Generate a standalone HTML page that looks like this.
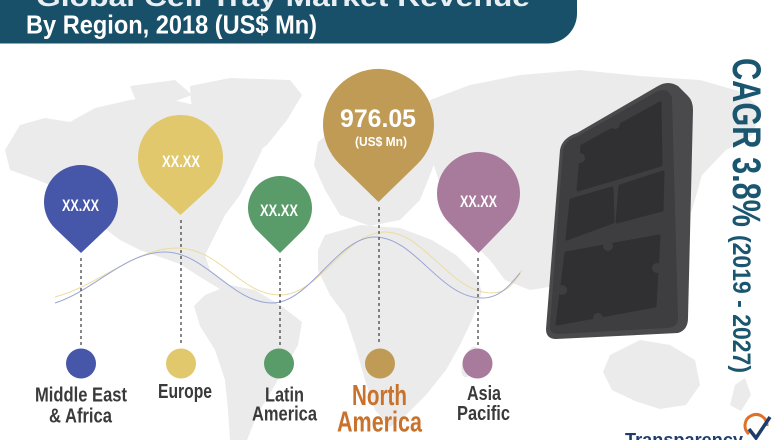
<!DOCTYPE html>
<html>
<head>
<meta charset="utf-8">
<style>
html,body{margin:0;padding:0;background:#fff;width:780px;height:440px;overflow:hidden;}
svg{display:block;}
text{font-family:"Liberation Sans Narrow","Liberation Sans",Arial,sans-serif;font-weight:bold;}
</style>
</head>
<body>
<svg width="780" height="440" viewBox="0 0 780 440" xmlns="http://www.w3.org/2000/svg">
  <rect width="780" height="440" fill="#ffffff"/>

  <!-- world map (faint) -->
  <g fill="#ebebeb">
    <!-- North America -->
    <path d="M5,150 L20,125 L45,118 L70,122 L95,108 L130,100 L160,97 L190,104 L215,96 L240,104 L255,125 L262,150 L250,175 L240,195 L225,215 L215,235 L205,255 L210,270 L230,285 L245,295 L225,292 L200,277 L180,264 L160,257 L140,250 L120,240 L100,225 L80,202 L55,187 L30,177 L10,170 Z"/>
    <!-- arctic islands -->
    <path d="M130,86 L175,80 L192,95 L162,106 L136,101 Z"/>
    <!-- Greenland -->
    <path d="M190,86 L230,78 L290,80 L302,95 L287,120 L267,145 L247,160 L226,150 L206,122 L191,102 Z"/>
    <!-- Europe -->
    <path d="M318,142 L345,120 L370,110 L400,104 L432,110 L442,140 L432,170 L420,200 L400,220 L370,226 L340,215 L325,190 L314,165 Z"/>
    <!-- Africa -->
    <path d="M325,235 L360,225 L400,228 L432,240 L456,255 L476,275 L482,292 L472,320 L460,345 L446,370 L426,395 L406,415 L390,427 L375,410 L365,380 L355,345 L345,315 L330,295 L318,270 L318,250 Z"/>
    <ellipse cx="470" cy="362" rx="7" ry="16" transform="rotate(20 470 362)"/>
    <!-- South America -->
    <path d="M205,295 L230,285 L255,290 L280,305 L302,322 L298,345 L286,366 L272,390 L257,415 L247,440 L230,440 L228,410 L225,380 L215,350 L200,326 L194,306 Z"/>
    <!-- Asia -->
    <path d="M430,100 L470,85 L520,75 L580,70 L640,76 L700,80 L742,92 L762,110 L752,135 L726,150 L702,175 L692,210 L672,240 L642,260 L602,275 L562,285 L530,290 L505,280 L490,260 L470,240 L452,220 L442,190 L432,160 L425,130 Z"/>
    <!-- Australia -->
    <path d="M610,355 L640,340 L670,345 L695,360 L700,385 L686,405 L660,409 L635,401 L612,390 L603,372 Z"/>
    <!-- NZ -->
    <path d="M735,385 L745,378 L751,395 L741,411 L730,405 Z"/>
  </g>

  <!-- header banner -->
  <path d="M0,0 H577 V13.5 A30,30 0 0 1 547,43.5 H0 Z" fill="#175068"/>
  <text x="36" y="6" font-size="26" fill="#e8eef2" textLength="494" lengthAdjust="spacingAndGlyphs">Global Cell Tray Market Revenue</text>
  <text x="26" y="33.3" font-size="26" fill="#ffffff" textLength="291" lengthAdjust="spacingAndGlyphs">By Region, 2018 (US$ Mn)</text>

  <!-- wave lines -->
  <path d="M55,297 C100,285 135,248 177,248 C220,248 240,295 280,295 C320,295 345,232 385,232 C425,232 450,293 492,293 C508,293 515,282 522,270" fill="none" stroke="#ecdca0" stroke-width="1"/>
  <path d="M55,303 C95,290 125,252 165,252 C205,252 232,303 272,303 C310,303 337,237 375,237 C415,237 440,298 482,298 C500,298 510,285 520,273" fill="none" stroke="#9aa3d6" stroke-width="1"/>

  <!-- dashed connectors -->
  <g stroke="#3a3a3a" stroke-width="1.2" stroke-dasharray="3,3" fill="none">
    <line x1="81" y1="258" x2="81" y2="345"/>
    <line x1="181" y1="220" x2="181" y2="345"/>
    <line x1="280" y1="258" x2="280" y2="345"/>
    <line x1="379" y1="207" x2="379" y2="345"/>
    <line x1="478" y1="258" x2="478" y2="345"/>
  </g>

  <!-- pins -->
  <path d="M81,253 L106.5,228.8 A37,37 0 1 0 55.5,228.8 Z" fill="#4656a8"/>
  <path d="M180.5,215 L209.1,188.9 A42.5,42.5 0 1 0 151.9,188.9 Z" fill="#e1c86c"/>
  <path d="M280,253 L302.5,230.8 A32,32 0 1 0 257.5,230.8 Z" fill="#5a9b6a"/>
  <path d="M378.5,202 L417.2,164.2 A55.5,55.5 0 1 0 339.8,164.2 Z" fill="#bf9b55"/>
  <path d="M478.5,253 L508.2,222.4 A41.5,41.5 0 1 0 448.8,222.4 Z" fill="#a87b9d"/>

  <g fill="#ffffff">
    <text x="62" y="211" font-size="17" textLength="37" lengthAdjust="spacingAndGlyphs">XX.XX</text>
    <text x="162" y="167" font-size="17" textLength="38" lengthAdjust="spacingAndGlyphs">XX.XX</text>
    <text x="260" y="216" font-size="17" textLength="38" lengthAdjust="spacingAndGlyphs">XX.XX</text>
    <text x="460" y="207" font-size="17" textLength="37" lengthAdjust="spacingAndGlyphs">XX.XX</text>
    <text x="340" y="127" font-size="25" textLength="76" lengthAdjust="spacingAndGlyphs">976.05</text>
    <text x="355" y="146" font-size="12.5" textLength="52" lengthAdjust="spacingAndGlyphs">(US$ Mn)</text>
  </g>

  <!-- small circles -->
  <circle cx="81" cy="363.5" r="15" fill="#4656a8"/>
  <circle cx="181" cy="363.5" r="15" fill="#e1c86c"/>
  <circle cx="279" cy="363.5" r="15" fill="#5a9b6a"/>
  <circle cx="380" cy="363.5" r="15" fill="#bf9b55"/>
  <circle cx="477.5" cy="363.5" r="15" fill="#a87b9d"/>

  <!-- labels -->
  <g fill="#3a3a3a" font-size="20">
    <text x="35" y="401.7" textLength="92" lengthAdjust="spacingAndGlyphs">Middle East</text>
    <text x="49" y="422.7" textLength="63" lengthAdjust="spacingAndGlyphs">&amp; Africa</text>
    <text x="158" y="398" textLength="54" lengthAdjust="spacingAndGlyphs">Europe</text>
    <text x="265" y="401.7" textLength="39" lengthAdjust="spacingAndGlyphs">Latin</text>
    <text x="252" y="420.7" textLength="65" lengthAdjust="spacingAndGlyphs">America</text>
    <text x="467" y="400" textLength="34" lengthAdjust="spacingAndGlyphs">Asia</text>
    <text x="457" y="420" textLength="53" lengthAdjust="spacingAndGlyphs">Pacific</text>
  </g>
  <g fill="#c8722c" font-size="29">
    <text x="352" y="405" textLength="55" lengthAdjust="spacingAndGlyphs">North</text>
    <text x="337" y="431.7" textLength="85" lengthAdjust="spacingAndGlyphs">America</text>
  </g>

  <!-- tray -->
  <path d="M577,133 L658,86 Q668,80 678,86 L688,96 Q693,101 693,110 L688,318 Q688,330 678,333 L556,339 Q546,339 546,329 L560,150 Q562,138 577,133 Z" fill="#4a4a4d"/>
  <path d="M578,136 L656,92 Q668,86 672,98 L678,318 Q678,327 668,328 L558,334 Q549,334 550,325 L563,150 Q565,140 578,136 Z" fill="#3e3e41"/>
  <g fill="#303033" stroke="#303033" stroke-width="3" stroke-linejoin="round">
    <path d="M582,146 L660,103 L661,165 L578,190 Z"/>
    <path d="M571,200 L612,188 L613,222 L567,239 Z"/>
    <path d="M620,186 L663,172 L662,210 L617,222 Z"/>
    <path d="M566,253 L659,236 L655,306 L557,324 Z"/>
  </g>
  <g fill="#3e3e41">
    <circle cx="615" cy="124" r="5"/>
    <circle cx="580" cy="158" r="5"/>
    <circle cx="608" cy="246" r="5"/>
    <circle cx="657" cy="268" r="5"/>
    <circle cx="562" cy="290" r="5"/>
    <circle cx="598" cy="318" r="5"/>
  </g>

  <!-- CAGR vertical text -->
  <text transform="translate(733,58) rotate(90)" font-size="40" fill="#1a5670" textLength="169" lengthAdjust="spacingAndGlyphs">CAGR 3.8%</text>
  <text transform="translate(733,235) rotate(90)" font-size="25" fill="#1a5670" textLength="138" lengthAdjust="spacingAndGlyphs">(2019 - 2027)</text>

  <!-- logo -->
  <text x="625" y="446" font-size="18" fill="#1f3d6c" textLength="118" lengthAdjust="spacingAndGlyphs">Transparency</text>
  <path d="M749,434 A11,11 0 1 1 767,426" fill="none" stroke="#e0702a" stroke-width="3"/>
  <path d="M749,429 L756,438 L770,417" fill="none" stroke="#1f3d6c" stroke-width="3.5"/>
</svg>
</body>
</html>
